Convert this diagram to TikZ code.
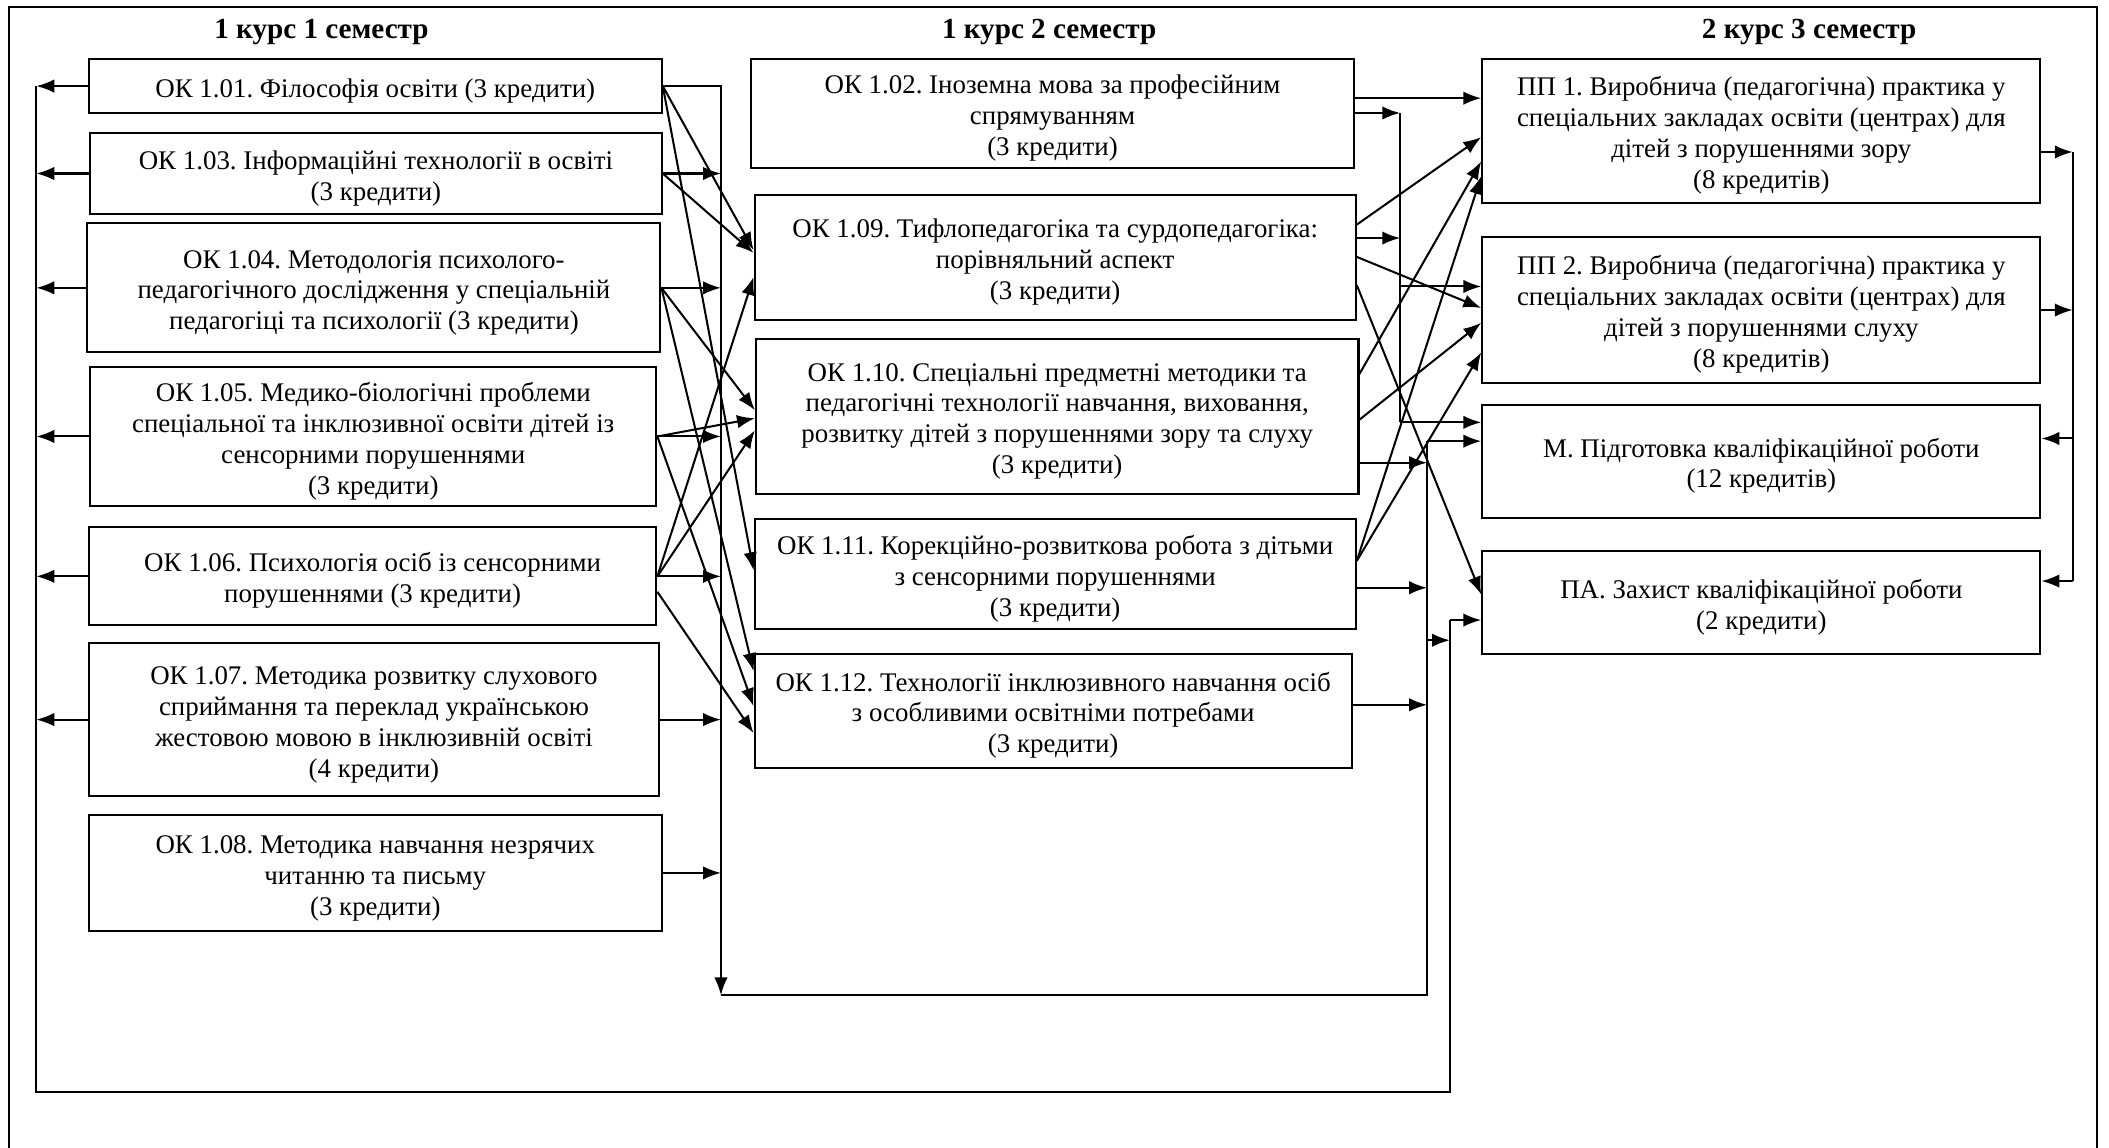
\documentclass[tikz,border=0pt]{standalone}
\usepackage{fontspec}
\setmainfont{Liberation Serif}
\usetikzlibrary{arrows.meta}
\frenchspacing

\begin{document}
\begin{tikzpicture}[x=0.6pt, y=-0.6pt, line width=0.9pt,
		blok/.style={draw, align=center, inner sep=0pt, font=\fontsize{12}{13.8}\selectfont},
		kop/.style={font=\fontsize{13}{15}\selectfont\bfseries},
		pil/.style={-{Latex[length=8pt,width=6pt]}}]
		\useasboundingbox (0,0) rectangle (1568,853);
		\draw (7,870) -- (7,5) -- (1559,5) -- (1559,870); % Рамка
		
		\node[kop] (s1) at (239,24) {1 курс 1 семестр}; % Заголовки
		\node[kop] (s2) at (780,24) {1 курс 2 семестр};
		\node[kop] (s3) at (1345,24) {2 курс 3 семестр};
		
		\node[blok, minimum width=255.6pt, minimum height=24pt] (k101) at (279,64) {\rule{0pt}{12.5pt}ОК 1.01. Філософія освіти (3 кредити)}; % 1 семестр
		\node[blok, minimum width=255pt, minimum height=36pt] (k103) at (279.5,129) {\rule{0pt}{12.5pt}ОК 1.03. Інформаційні технології в освіті\\(3 кредити)};
		\node[blok, minimum width=255.6pt, minimum height=57.6pt] (k104) at (278,214) {\rule{0pt}{12.5pt}ОК 1.04. Методологія психолого-\\педагогічного дослідження у спеціальній\\педагогіці та психології (3 кредити)};
		\node[blok, minimum width=252.6pt, minimum height=61.8pt] (k105) at (277.5,324.5) {\rule{0pt}{12.5pt}ОК 1.05. Медико-біологічні проблеми\\спеціальної  та інклюзивної освіти дітей із\\сенсорними порушеннями\\(3 кредити)};
		\node[blok, minimum width=253.2pt, minimum height=43.8pt] (k106) at (277,428.5) {\rule{0pt}{12.5pt}ОК 1.06. Психологія осіб із сенсорними\\порушеннями (3 кредити)};
		\node[blok, minimum width=254.4pt, minimum height=68.4pt] (k107) at (278,535) {\rule{0pt}{12.5pt}ОК 1.07. Методика розвитку слухового\\сприймання та переклад українською\\жестовою мовою в інклюзивній освіті\\(4 кредити)};
		\node[blok, minimum width=255.6pt, minimum height=51.6pt] (k108) at (279,649) {\rule{0pt}{12.5pt}ОК 1.08. Методика навчання незрячих\\читанню та письму\\(3 кредити)};
		
		\node[blok, minimum width=269.4pt, minimum height=48.6pt] (k102) at (782.5,84.5) {\rule{0pt}{12.5pt}ОК 1.02. Іноземна мова за професійним\\спрямуванням\\(3 кредити)}; % 2 семестр
		\node[blok, minimum width=268.2pt, minimum height=55.8pt] (k109) at (784.5,191.5) {\rule{0pt}{12.5pt}ОК 1.09. Тифлопедагогіка та сурдопедагогіка:\\порівняльний аспект\\(3 кредити)};
		\node[blok, minimum width=268.8pt, minimum height=69pt] (k110) at (786,309.5) {\rule{0pt}{12.5pt}ОК 1.10. Спеціальні предметні методики та\\педагогічні технології навчання, виховання,\\розвитку дітей з порушеннями зору та слуху\\(3 кредити)};
		\node[blok, minimum width=268.2pt, minimum height=49.2pt] (k111) at (784.5,427) {\rule{0pt}{12.5pt}ОК 1.11. Корекційно-розвиткова робота з дітьми\\з сенсорними порушеннями\\(3 кредити)};
		\node[blok, minimum width=266.4pt, minimum height=51pt] (k112) at (783,528.5) {\rule{0pt}{12.5pt}ОК 1.12. Технології інклюзивного навчання осіб\\з особливими освітніми потребами\\(3 кредити)};
		
		\node[blok, minimum width=249pt, minimum height=64.2pt] (pp1) at (1309.5,97.5) {\rule{0pt}{12.5pt}ПП 1. Виробнича (педагогічна) практика у\\спеціальних закладах освіти (центрах) для\\дітей з порушеннями зору\\(8 кредитів)}; % 3 семестр
		\node[blok, minimum width=249pt, minimum height=65.4pt] (pp2) at (1309.5,230.5) {\rule{0pt}{12.5pt}ПП 2. Виробнича (педагогічна) практика у\\спеціальних закладах освіти (центрах) для\\дітей з порушеннями слуху\\(8 кредитів)};
		\node[blok, minimum width=249pt, minimum height=50.4pt] (mag) at (1309.5,343) {\rule{0pt}{12.5pt}М. Підготовка кваліфікаційної роботи\\(12 кредитів)};
		\node[blok, minimum width=249pt, minimum height=45.6pt] (pa) at (1309.5,448) {\rule{0pt}{12.5pt}ПА. Захист кваліфікаційної роботи\\(2 кредити)};
		
		\coordinate (lv1) at (27,64); % Шини
		\coordinate (lv2) at (27,812);
		\coordinate (b1a) at (536,64);
		\coordinate (b1b) at (536,740);
		\coordinate (b2a) at (1041,84);
		\coordinate (b2b) at (1041,314);
		\coordinate (b3a) at (1061,328);
		\coordinate (b3b) at (1061,740);
		\coordinate (b4a) at (1078,461);
		\coordinate (b4b) at (1078,812);
		\coordinate (rv1) at (1541,113);
		\coordinate (rv2) at (1541,432);
		
		\draw (lv1) -- (lv2) -- (b4b) -- (b4a); % Ліва шина і низ
		\draw[pil] (b4a) -- (pa.west |- b4a);
		\draw[pil] (k101.west) -- (k101.west -| lv1);
		\draw[pil] (k103.west) -- (k103.west -| lv1);
		\draw[pil] (k104.west) -- (k104.west -| lv1);
		\draw[pil] (k105.west) -- (k105.west -| lv1);
		\draw[pil] (k106.west) -- (k106.west -| lv1);
		\draw[pil] (k107.west) -- (k107.west -| lv1);
		
		\draw[pil] (k101.east) -| (b1b); % Шина між 1 і 2 семестром
		\draw (b1b) -- (b3b) -- (b3a);
		\draw[pil] (b3a) -- (mag.west |- b3a);
		\draw[pil] (k103.east) -- (k103.east -| b1a);
		\draw[pil] (k104.east) -- (k104.east -| b1a);
		\draw[pil] (k105.east) -- (k105.east -| b1a);
		\draw[pil] (k106.east) -- (k106.east -| b1a);
		\draw[pil] (k107.east) -- (k107.east -| b1a);
		\draw[pil] (k108.east) -- (k108.east -| b1a);
		
		\draw[pil] (k101.east) -- (k109.west |- 0,186); % Зв'язки 1 -> 2 семестр
		\draw[pil] (k101.east) -- (k111.west |- 0,424);
		\draw[pil] (k103.east) -- (k109.west |- 0,188);
		\draw[pil] (k104.east) -- (k110.west |- 0,305);
		\draw[pil] (k104.east) -- (k112.west |- 0,499);
		\draw[pil] (k105.east) -- (k110.west |- 0,311);
		\draw[pil] (k105.east) -- (k112.west |- 0,525);
		\draw[pil] (k106.east) -- (k109.west |- 0,206);
		\draw[pil] (k106.east) -- (k110.west |- 0,320);
		\draw[pil] (k106.east |- 0,440) -- (k112.west |- 0,545);
		
		\draw[pil] (k102.east |- 0,73) -- (pp1.west |- 0,73); % Зв'язки 2 -> 3 семестр
		\draw[pil] (k102.east |- b2a) -- (b2a);
		\draw (b2a) -- (b2b);
		\draw[pil] (k109.east |- 0,177) -- (b2a |- 0,177);
		\draw[pil] (b2a |- 0,213) -- (pp2.west |- 0,213);
		\draw[pil] (b2b) -- (mag.west |- b2b);
		\draw[pil] (k109.east |- 0,167) -- (pp1.west |- 0,102);
		\draw[pil] (k109.east |- 0,191) -- (pp2.west |- 0,229);
		\draw[pil] (k109.east |- 0,212) -- (pa.west |- 0,442);
		\draw[pil] (k110.east |- 0,278) -- (pp1.west |- 0,120);
		\draw[pil] (k110.east |- 0,312) -- (pp2.west |- 0,240);
		\draw[pil] (k110.east |- 0,344) -- (b3a |- 0,344);
		\draw[pil] (k111.east |- 0,417) -- (pp1.west |- 0,131);
		\draw[pil] (k111.east |- 0,417) -- (pp2.west |- 0,262);
		\draw[pil] (k111.east |- 0,437) -- (b3a |- 0,437);
		\draw[pil] (k112.east |- 0,524) -- (b3a |- 0,524);
		\draw[pil] (b3a |- 0,476) -- (b4a |- 0,476);
		
		\draw[pil] (pp1.east |- rv1) -- (rv1); % Права шина
		\draw[pil] (pp2.east) -- (pp2.east -| rv1);
		\draw (rv1) -- (rv2);
		\draw[pil] (rv1 |- 0,326) -- (mag.east |- 0,326);
		\draw[pil] (rv2) -- (pa.east |- rv2);
	\end{tikzpicture}
\end{document}
